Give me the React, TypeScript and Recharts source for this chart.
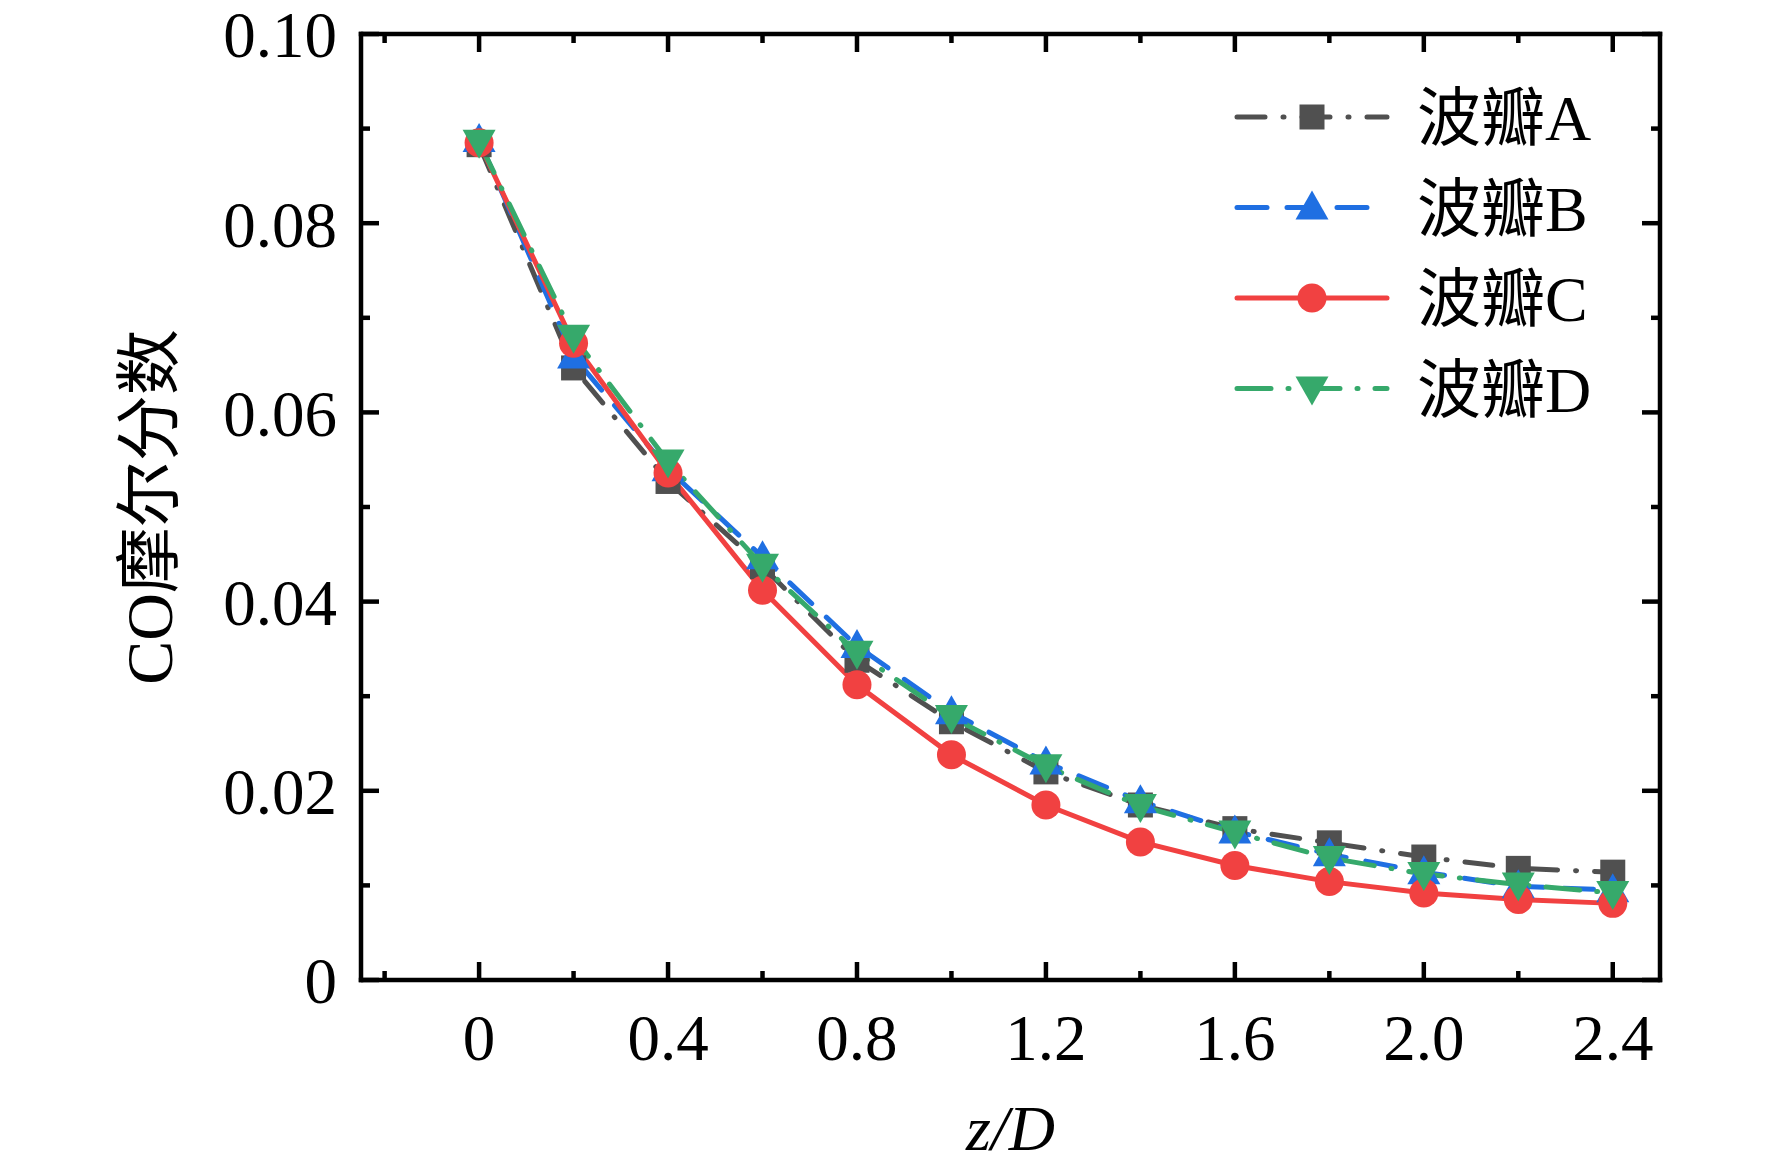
import React from 'react';
import { LineChart, Line, XAxis, YAxis, Legend } from 'recharts';

// z/D positions
const zD = [0, 0.2, 0.4, 0.6, 0.8, 1.0, 1.2, 1.4, 1.6, 1.8, 2.0, 2.2, 2.4];

// CO mole fraction per lobe
const lobeA = [0.0883, 0.0647, 0.0527, 0.0437, 0.0338, 0.0273, 0.0220, 0.0185, 0.0160, 0.0145, 0.0130, 0.0118, 0.0114];
const lobeB = [0.0888, 0.0659, 0.0540, 0.0447, 0.0353, 0.0283, 0.0230, 0.0189, 0.0157, 0.0133, 0.0114, 0.0099, 0.0095];
const lobeC = [0.0885, 0.0673, 0.0536, 0.0412, 0.0312, 0.0238, 0.0185, 0.0146, 0.0121, 0.0104, 0.0092, 0.0085, 0.0081];
const lobeD = [0.0886, 0.0680, 0.0548, 0.0438, 0.0346, 0.0278, 0.0226, 0.0184, 0.0156, 0.0129, 0.0112, 0.0101, 0.0092];

const seriesNames = ['波瓣A', '波瓣B', '波瓣C', '波瓣D'];

const xTicks = [-0.2, 0, 0.2, 0.4, 0.6, 0.8, 1.0, 1.2, 1.4, 1.6, 1.8, 2.0, 2.2, 2.4];
const xMajorLabels: Record<string, string> = {
  '0': '0', '0.4': '0.4', '0.8': '0.8', '1.2': '1.2', '1.6': '1.6', '2': '2.0', '2.4': '2.4',
};
const yTicks = [0, 0.01, 0.02, 0.03, 0.04, 0.05, 0.06, 0.07, 0.08, 0.09, 0.1];
const yMajorLabels: Record<string, string> = {
  '0': '0', '0.02': '0.02', '0.04': '0.04', '0.06': '0.06', '0.08': '0.08', '0.1': '0.10',
};

const data = zD.map((z, i) => ({
  z,
  a: lobeA[i],
  b: lobeB[i],
  c: lobeC[i],
  d: lobeD[i],
}));

const FONT = '"Liberation Serif", "Times New Roman", "Noto Sans CJK SC", serif';
const MAJOR = 18;
const MINOR = 9;
const AXW = 4.5;

type Shape = 'square' | 'up' | 'circle' | 'down';

const styles: { key: string; color: string; dash?: string; shape: Shape }[] = [
  { key: 'a', color: '#505050', dash: '28 18 1 18', shape: 'square' },
  { key: 'b', color: '#1f6fe2', dash: '30 20', shape: 'up' },
  { key: 'c', color: '#f14141', dash: undefined, shape: 'circle' },
  { key: 'd', color: '#36a96b', dash: '34 17 1 17', shape: 'down' },
];

const Marker = ({ cx, cy, shape, color }: { cx: number; cy: number; shape: Shape; color: string }) => {
  if (cx == null || cy == null) return null;
  if (shape === 'square') return <rect x={cx - 12.5} y={cy - 12.5} width={25} height={25} fill={color} />;
  if (shape === 'circle') return <circle cx={cx} cy={cy} r={14.5} fill={color} />;
  if (shape === 'up')
    return <polygon points={`${cx},${cy - 17} ${cx + 16.5},${cy + 12} ${cx - 16.5},${cy + 12}`} fill={color} />;
  return <polygon points={`${cx},${cy + 17} ${cx + 16.5},${cy - 12} ${cx - 16.5},${cy - 12}`} fill={color} />;
};

const isMajorX = (v: number) => xMajorLabels[String(+v.toFixed(2))] !== undefined;
const isMajorY = (v: number) => yMajorLabels[String(+v.toFixed(3))] !== undefined;

const BottomTick = (props: any) => {
  const { x, y, payload } = props;
  const v = payload.value;
  const major = isMajorX(v);
  return (
    <g>
      <line x1={x} x2={x} y1={y} y2={y - (major ? MAJOR : MINOR)} stroke="#000" strokeWidth={AXW} />
      {major && (
        <text x={x} y={y + 80} textAnchor="middle" fontSize={65} fontFamily={FONT} fill="#000">
          {xMajorLabels[String(+v.toFixed(2))]}
        </text>
      )}
    </g>
  );
};

const TopTick = (props: any) => {
  const { x, y, payload } = props;
  const major = isMajorX(payload.value);
  return <line x1={x} x2={x} y1={y} y2={y + (major ? MAJOR : MINOR)} stroke="#000" strokeWidth={AXW} />;
};

const LeftTick = (props: any) => {
  const { x, y, payload } = props;
  const v = payload.value;
  const major = isMajorY(v);
  return (
    <g>
      <line x1={x} x2={x + (major ? MAJOR : MINOR)} y1={y} y2={y} stroke="#000" strokeWidth={AXW} />
      {major && (
        <text x={x - 24} y={y} dy="0.36em" textAnchor="end" fontSize={65} fontFamily={FONT} fill="#000">
          {yMajorLabels[String(+v.toFixed(3))]}
        </text>
      )}
    </g>
  );
};

const RightTick = (props: any) => {
  const { x, y, payload } = props;
  const major = isMajorY(payload.value);
  return <line x1={x} x2={x - (major ? MAJOR : MINOR)} y1={y} y2={y} stroke="#000" strokeWidth={AXW} />;
};

const renderLegend = (props: any) => {
  const payload = props.payload || [];
  return (
    <svg width={480} height={370}>
      {payload.map((entry: any, i: number) => {
        const s = styles[i];
        const cy = 47 + i * 90.5;
        return (
          <g key={entry.value}>
            <line x1={17} x2={167} y1={cy} y2={cy} stroke={s.color} strokeWidth={5}
              strokeDasharray={s.dash} strokeLinecap="round" />
            <Marker cx={92} cy={cy} shape={s.shape} color={s.color} />
            <text x={197} y={cy} dy="0.36em" fontSize={64} fontFamily={FONT} fill="#000">
              {entry.value}
            </text>
          </g>
        );
      })}
    </svg>
  );
};

const axisLine = { stroke: '#000', strokeWidth: AXW, strokeLinecap: 'square' as const };

export default function App() {
  return (
    <div style={{ position: 'absolute', left: 0, top: 0, background: '#fff' }}>
      <LineChart width={1772} height={1166} data={data}
        margin={{ top: 24, right: 102, bottom: 86, left: 261 }}>
        <XAxis xAxisId="bottom" dataKey="z" type="number" domain={[-0.25, 2.5]} ticks={xTicks}
          interval={0} allowDataOverflow height={100} tickSize={0} tickMargin={0}
          axisLine={axisLine} tickLine={false} tick={<BottomTick />}
          label={{
            content: (p: any) => {
              const vb = p.viewBox;
              return (
                <text x={vb.x + vb.width / 2} y={1150} textAnchor="middle" fontSize={64}
                  fontFamily={FONT} fontStyle="italic" fill="#000">z/D</text>
              );
            },
          }} />
        <XAxis xAxisId="top" dataKey="z" type="number" orientation="top" domain={[-0.25, 2.5]}
          ticks={xTicks} interval={0} allowDataOverflow height={10} tickSize={0} tickMargin={0}
          axisLine={axisLine} tickLine={false} tick={<TopTick />} />
        <YAxis yAxisId="left" type="number" domain={[0, 0.1]} ticks={yTicks} interval={0}
          allowDataOverflow width={100} tickSize={0} tickMargin={0}
          axisLine={axisLine} tickLine={false} tick={<LeftTick />}
          label={{
            content: (p: any) => {
              const vb = p.viewBox;
              const cy = vb.y + vb.height / 2;
              return (
                <text x={148} y={cy} transform={`rotate(-90, 148, ${cy})`} dy="0.36em"
                  textAnchor="middle" fontSize={66} fontFamily={FONT} fill="#000">CO摩尔分数</text>
              );
            },
          }} />
        <YAxis yAxisId="right" orientation="right" type="number" domain={[0, 0.1]} ticks={yTicks}
          interval={0} allowDataOverflow width={10} tickSize={0} tickMargin={0}
          axisLine={axisLine} tickLine={false} tick={<RightTick />} />
        <Legend layout="vertical" align="center" verticalAlign="middle" content={renderLegend}
          wrapperStyle={{ left: 1220, top: 70, width: 480, height: 370 }} />
        {styles.map((s, i) => (
          <Line key={s.key} xAxisId="bottom" yAxisId="left" dataKey={s.key} name={seriesNames[i]}
            stroke={s.color} strokeWidth={5} strokeDasharray={s.dash} strokeLinecap="round"
            isAnimationActive={false}
            dot={(p: any) => <Marker key={`${s.key}-${p.index}`} cx={p.cx} cy={p.cy} shape={s.shape} color={s.color} />}
            activeDot={false} />
        ))}
      </LineChart>
    </div>
  );
}
